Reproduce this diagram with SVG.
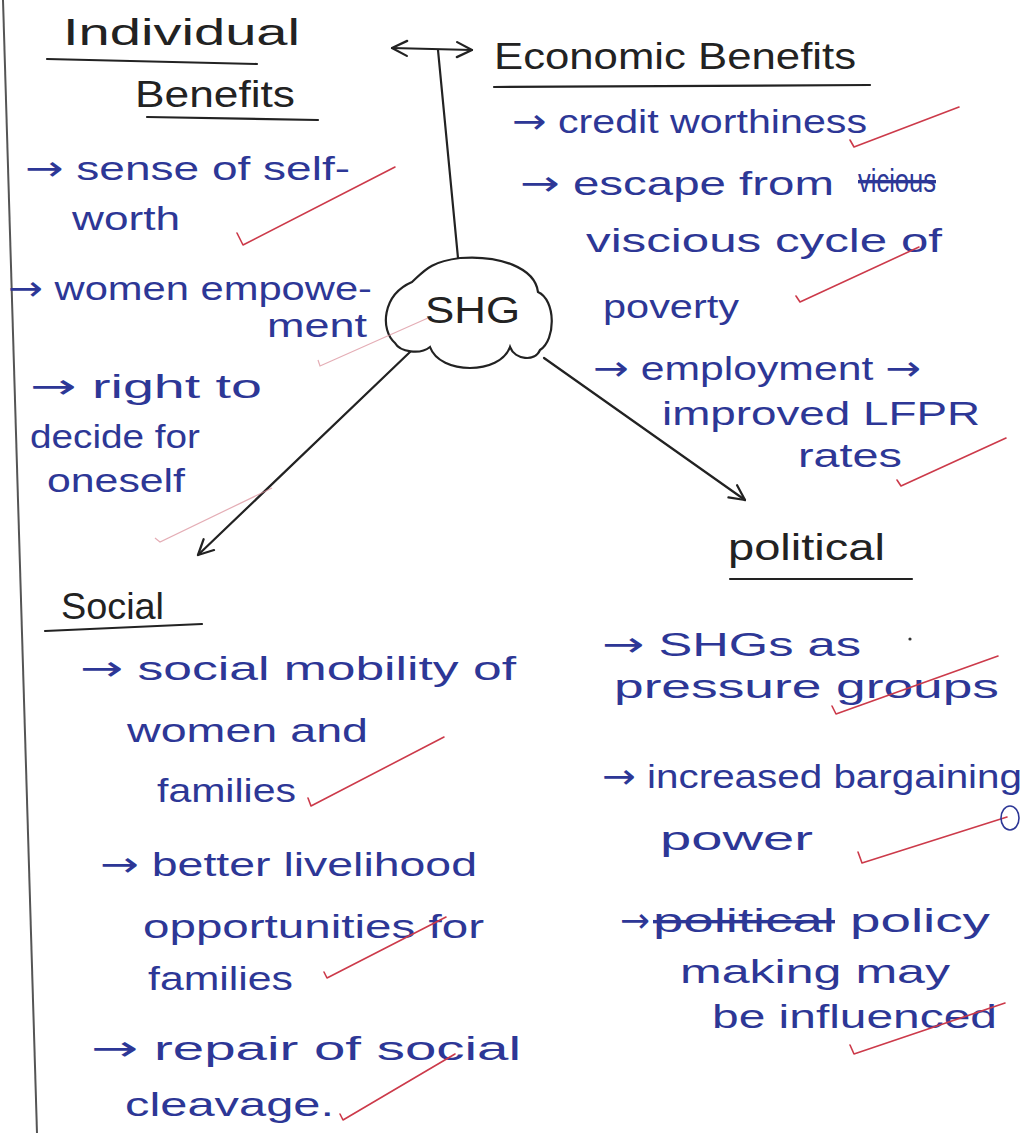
<svg xmlns="http://www.w3.org/2000/svg" width="1024" height="1133" viewBox="0 0 1024 1133">
<defs>
<style>
.ink{font-family:"Liberation Sans","DejaVu Sans",sans-serif;font-size:34px;fill:#2d3796;}
.head{font-family:"Liberation Sans","DejaVu Sans",sans-serif;font-size:36px;fill:#222;}
.ar{font-family:"DejaVu Sans","Liberation Sans",sans-serif;font-size:34px;}
.ul{stroke:#222;stroke-width:2.2;fill:none;stroke-linecap:round;}
.con{stroke:#222;stroke-width:2.2;fill:none;stroke-linecap:round;}
.tick{stroke:#cc3a4a;stroke-width:1.6;fill:none;stroke-linecap:round;stroke-linejoin:round;}
.faint{stroke:#d98a96;stroke-width:1.2;fill:none;opacity:0.7;}
.strike{text-decoration:line-through;}
</style>
<marker id="chev" viewBox="0 0 12 12" refX="11" refY="6" markerWidth="18" markerHeight="18" markerUnits="userSpaceOnUse" orient="auto-start-reverse">
<path d="M1,1 L11,6 L1,11" fill="none" stroke="#222" stroke-width="1.5" stroke-linecap="round" stroke-linejoin="round"/>
</marker>
</defs>
<rect width="1024" height="1133" fill="#ffffff"/>
<line x1="3" y1="0" x2="37" y2="1133" stroke="#555" stroke-width="2"/>

<g id="connectors">
<path class="con" d="M458,258 L438,50"/>
<path class="con" d="M392,48 L472,50" marker-start="url(#chev)" marker-end="url(#chev)"/>
<path class="con" d="M410,352 L198,555" marker-end="url(#chev)"/>
<path class="con" d="M544,358 L745,500" marker-end="url(#chev)"/>
</g>

<g id="node-shg">
<path d="M395,343 C380,330 382,295 412,282 C425,270 430,262 460,258 C500,255 535,268 538,292 C556,300 556,340 540,350 C535,362 515,360 510,347 C500,375 440,375 430,347 C420,355 400,352 395,343 Z" fill="#fff" stroke="#222" stroke-width="2.2"/>
<text class="head" x="425" y="323" font-size="40" textLength="95" lengthAdjust="spacingAndGlyphs">SHG</text>
</g>

<g id="node-individual">
<text class="head" x="63" y="45" textLength="237" lengthAdjust="spacingAndGlyphs">Individual</text>
<path class="ul" d="M47,59 L257,64"/>
<text class="head" x="135" y="107" textLength="160" lengthAdjust="spacingAndGlyphs">Benefits</text>
<path class="ul" d="M147,117 L318,120"/>
<text class="ink" x="25" y="180" textLength="325" lengthAdjust="spacingAndGlyphs"><tspan class="ar">→</tspan> sense of self-</text>
<text class="ink" x="72" y="230" textLength="108" lengthAdjust="spacingAndGlyphs">worth</text>
<text class="ink" x="8" y="300" textLength="364" lengthAdjust="spacingAndGlyphs"><tspan class="ar">→</tspan> women empowe-</text>
<text class="ink" x="267" y="337" textLength="100" lengthAdjust="spacingAndGlyphs">ment</text>
<text class="ink" x="30" y="398" textLength="232" lengthAdjust="spacingAndGlyphs"><tspan class="ar">→</tspan> right to</text>
<text class="ink" x="30" y="448" textLength="170" lengthAdjust="spacingAndGlyphs">decide for</text>
<text class="ink" x="47" y="492" textLength="138" lengthAdjust="spacingAndGlyphs">oneself</text>
</g>

<g id="node-economic">
<text class="head" x="494" y="69" textLength="362" lengthAdjust="spacingAndGlyphs">Economic Benefits</text>
<path class="ul" d="M494,87 L870,85"/>
<text class="ink" x="512" y="133" textLength="355" lengthAdjust="spacingAndGlyphs"><tspan class="ar">→</tspan> credit worthiness</text>
<text class="ink" x="520" y="195" textLength="314" lengthAdjust="spacingAndGlyphs"><tspan class="ar">→</tspan> escape from</text>
<text class="ink strike" x="858" y="192" font-size="28" textLength="78" lengthAdjust="spacingAndGlyphs">vicious</text>
<text class="ink" x="586" y="252" textLength="356" lengthAdjust="spacingAndGlyphs">viscious cycle of</text>
<text class="ink" x="603" y="318" textLength="136" lengthAdjust="spacingAndGlyphs">poverty</text>
<text class="ink" x="593" y="380" textLength="328" lengthAdjust="spacingAndGlyphs"><tspan class="ar">→</tspan> employment <tspan class="ar">→</tspan></text>
<text class="ink" x="662" y="425" textLength="318" lengthAdjust="spacingAndGlyphs">improved LFPR</text>
<text class="ink" x="798" y="467" textLength="104" lengthAdjust="spacingAndGlyphs">rates</text>
</g>

<g id="node-political">
<text class="head" x="728" y="560" textLength="157" lengthAdjust="spacingAndGlyphs">political</text>
<path class="ul" d="M730,579 L912,579"/>
<text class="ink" x="602" y="656" textLength="259" lengthAdjust="spacingAndGlyphs"><tspan class="ar">→</tspan> SHGs as</text>
<circle cx="910" cy="639" r="1.6" fill="#333"/>
<text class="ink" x="614" y="698" textLength="385" lengthAdjust="spacingAndGlyphs">pressure groups</text>
<text class="ink" x="602" y="788" textLength="420" lengthAdjust="spacingAndGlyphs"><tspan class="ar">→</tspan> increased bargaining</text>
<text class="ink" x="660" y="850" textLength="153" lengthAdjust="spacingAndGlyphs">power</text>
<text class="ink ar" x="620" y="932" textLength="30" lengthAdjust="spacingAndGlyphs">→</text>
<text class="ink strike" x="653" y="932" textLength="182" lengthAdjust="spacingAndGlyphs">political</text>
<text class="ink" x="850" y="932" textLength="140" lengthAdjust="spacingAndGlyphs">policy</text>
<text class="ink" x="680" y="983" textLength="270" lengthAdjust="spacingAndGlyphs">making may</text>
<text class="ink" x="712" y="1028" textLength="285" lengthAdjust="spacingAndGlyphs">be influenced</text>
</g>

<g id="node-social">
<text class="head" x="61" y="619" textLength="103" lengthAdjust="spacingAndGlyphs">Social</text>
<path class="ul" d="M45,631 L202,624"/>
<text class="ink" x="80" y="680" textLength="436" lengthAdjust="spacingAndGlyphs"><tspan class="ar">→</tspan> social mobility of</text>
<text class="ink" x="127" y="742" textLength="241" lengthAdjust="spacingAndGlyphs">women and</text>
<text class="ink" x="157" y="802" textLength="139" lengthAdjust="spacingAndGlyphs">families</text>
<text class="ink" x="100" y="876" textLength="377" lengthAdjust="spacingAndGlyphs"><tspan class="ar">→</tspan> better livelihood</text>
<text class="ink" x="143" y="938" textLength="341" lengthAdjust="spacingAndGlyphs">opportunities for</text>
<text class="ink" x="148" y="990" textLength="145" lengthAdjust="spacingAndGlyphs">families</text>
<text class="ink" x="91" y="1060" textLength="430" lengthAdjust="spacingAndGlyphs"><tspan class="ar">→</tspan> repair of social</text>
<text class="ink" x="125" y="1116" textLength="209" lengthAdjust="spacingAndGlyphs">cleavage.</text>
</g>

<g id="marks">
<path class="tick" d="M237,233 L243,245 L395,167"/>
<path class="faint" d="M318,360 L320,366 L428,318"/>
<path class="faint" d="M155,538 L160,542 L272,488"/>
<path class="tick" d="M850,140 L854,147 L959,107"/>
<path class="tick" d="M796,296 L800,302 L919,247"/>
<path class="tick" d="M897,480 L901,486 L1006,438"/>
<path class="tick" d="M832,706 L836,714 L998,656"/>
<path class="tick" d="M858,852 L862,863 L1007,817"/>
<ellipse cx="1010" cy="818" rx="9" ry="12" fill="none" stroke="#2d3796" stroke-width="1.6"/>
<path class="tick" d="M850,1045 L854,1054 L1005,1003"/>
<path class="tick" d="M308,798 L311,806 L444,737"/>
<path class="tick" d="M324,972 L327,978 L446,917"/>
<path class="tick" d="M340,1114 L343,1120 L455,1054"/>
</g>
</svg>
